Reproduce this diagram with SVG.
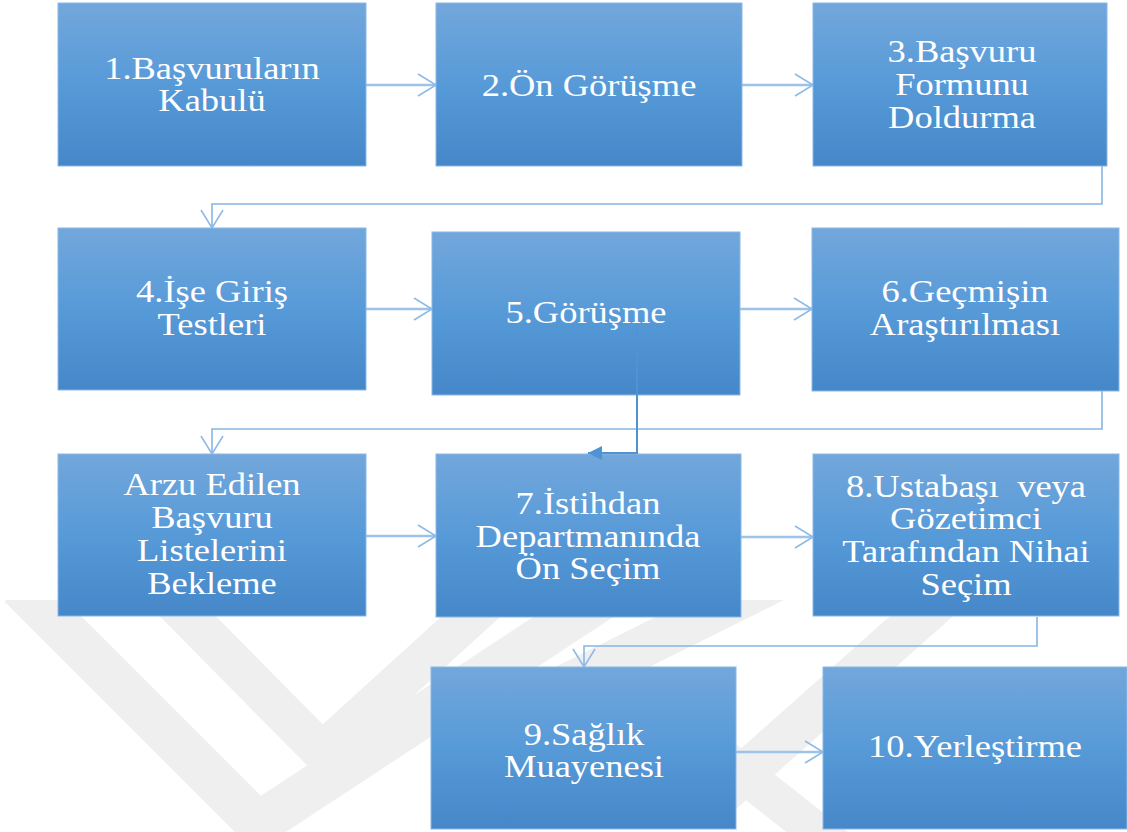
<svg xmlns="http://www.w3.org/2000/svg" width="1127" height="832" viewBox="0 0 1127 832">
<defs>
<linearGradient id="boxg" x1="0" y1="0" x2="0" y2="1">
<stop offset="0" stop-color="#72a7db"/>
<stop offset="0.5" stop-color="#579ad8"/>
<stop offset="1" stop-color="#4587c8"/>
</linearGradient>
<clipPath id="wmclip"><rect x="0" y="600" width="1127" height="232"/></clipPath>
<marker id="open" markerUnits="userSpaceOnUse" markerWidth="24" markerHeight="26" refX="19" refY="12" orient="auto">
<path d="M1,1 L19,12 L1,23" fill="none" stroke="#8dbae6" stroke-width="1.6"/>
</marker>
<marker id="solid" markerUnits="userSpaceOnUse" markerWidth="16" markerHeight="16" refX="14" refY="8" orient="auto">
<path d="M0,1 L14,8 L0,15 Z" fill="#4f92d6"/>
</marker>
</defs>
<style>
.box{fill:url(#boxg);stroke:#8ab8e6;stroke-width:1}
.t{fill:#ffffff;font-family:"Liberation Serif","Times New Roman",serif;font-size:32px;text-anchor:middle}
.h{fill:none;stroke:#9dc3ea;stroke-width:2.5}
.e{fill:none;stroke:#86b6e4;stroke-width:1.6}
.wm{fill:none;stroke:#efefef;stroke-linejoin:miter}
</style>
<rect width="1127" height="832" fill="#ffffff"/>
<g id="watermark" clip-path="url(#wmclip)">
<path class="wm" stroke-width="44" d="M20,586 L258,824 L660,560"/>
<path class="wm" stroke-width="40" d="M158,586 L322,752 L520,572"/>
<path class="wm" stroke-width="42" d="M775,581 L560,688"/>
<path class="wm" stroke-width="42" d="M960,582 L700,813"/>
<path class="wm" stroke-width="38" d="M700,740 L840,850"/>
</g>
<g id="connectors">
<path class="h" d="M366,85 H436" marker-end="url(#open)"/>
<path class="h" d="M742,85 H813" marker-end="url(#open)"/>
<path class="h" d="M366,309 H432" marker-end="url(#open)"/>
<path class="h" d="M740,309 H812" marker-end="url(#open)"/>
<path class="h" d="M366,536 H436" marker-end="url(#open)"/>
<path class="h" d="M741,537 H813" marker-end="url(#open)"/>
<path class="h" d="M736,752 H823" marker-end="url(#open)"/>
<path class="e" d="M1102,166 V204 H212 V228" marker-end="url(#open)"/>
<path class="e" d="M1102,391 V429 H212 V454" marker-end="url(#open)"/>
<path class="e" d="M1037,617 V646 H584 V667" marker-end="url(#open)"/>
</g>
<g id="n1"><rect class="box" x="58" y="3" width="308" height="163"/>
<text class="t" transform="translate(212 0) scale(1.14 1)"><tspan x="0" y="79">1.Başvuruların</tspan><tspan x="0" y="111">Kabulü</tspan></text></g>
<g id="n2"><rect class="box" x="436" y="3" width="306" height="163"/>
<text class="t" transform="translate(589 0) scale(1.14 1)"><tspan x="0" y="96">2.Ön Görüşme</tspan></text></g>
<g id="n3"><rect class="box" x="813" y="3" width="294" height="163"/>
<text class="t" transform="translate(962 0) scale(1.14 1)"><tspan x="0" y="62">3.Başvuru</tspan><tspan x="0" y="95">Formunu</tspan><tspan x="0" y="128">Doldurma</tspan></text></g>
<g id="n4"><rect class="box" x="58" y="228" width="308" height="162"/>
<text class="t" transform="translate(212 0) scale(1.14 1)"><tspan x="0" y="302">4.İşe Giriş</tspan><tspan x="0" y="335">Testleri</tspan></text></g>
<g id="n5"><rect class="box" x="432" y="232" width="308" height="163"/>
<text class="t" transform="translate(586 0) scale(1.14 1)"><tspan x="0" y="323">5.Görüşme</tspan></text></g>
<g id="n6"><rect class="box" x="812" y="228" width="307" height="163"/>
<text class="t" transform="translate(965 0) scale(1.14 1)"><tspan x="0" y="302">6.Geçmişin</tspan><tspan x="0" y="335">Araştırılması</tspan></text></g>
<g id="n7"><rect class="box" x="58" y="454" width="308" height="162"/>
<text class="t" transform="translate(212 0) scale(1.14 1)"><tspan x="0" y="495">Arzu Edilen</tspan><tspan x="0" y="528">Başvuru</tspan><tspan x="0" y="561">Listelerini</tspan><tspan x="0" y="594">Bekleme</tspan></text></g>
<g id="n8"><rect class="box" x="436" y="454" width="305" height="163"/>
<text class="t" transform="translate(588 0) scale(1.14 1)"><tspan x="0" y="514">7.İstihdan</tspan><tspan x="0" y="547">Departmanında</tspan><tspan x="0" y="579">Ön Seçim</tspan></text></g>
<g id="n9"><rect class="box" x="813" y="454" width="306" height="162"/>
<text class="t" transform="translate(966 0) scale(1.14 1)"><tspan x="0" y="497">8.Ustabaşı&#160; veya</tspan><tspan x="0" y="529">Gözetimci</tspan><tspan x="0" y="562">Tarafından Nihai</tspan><tspan x="0" y="595">Seçim</tspan></text></g>
<g id="n10"><rect class="box" x="431" y="667" width="305" height="162"/>
<text class="t" transform="translate(584 0) scale(1.14 1)"><tspan x="0" y="745">9.Sağlık</tspan><tspan x="0" y="777">Muayenesi</tspan></text></g>
<g id="n11"><rect class="box" x="823" y="667" width="304" height="162"/>
<text class="t" transform="translate(975 0) scale(1.14 1)"><tspan x="0" y="757">10.Yerleştirme</tspan></text></g>
<g id="connector-overlay">
<path d="M637,328 V453 H588" fill="none" stroke="#4f92d6" stroke-width="2" marker-end="url(#solid)"/>
</g>
</svg>
